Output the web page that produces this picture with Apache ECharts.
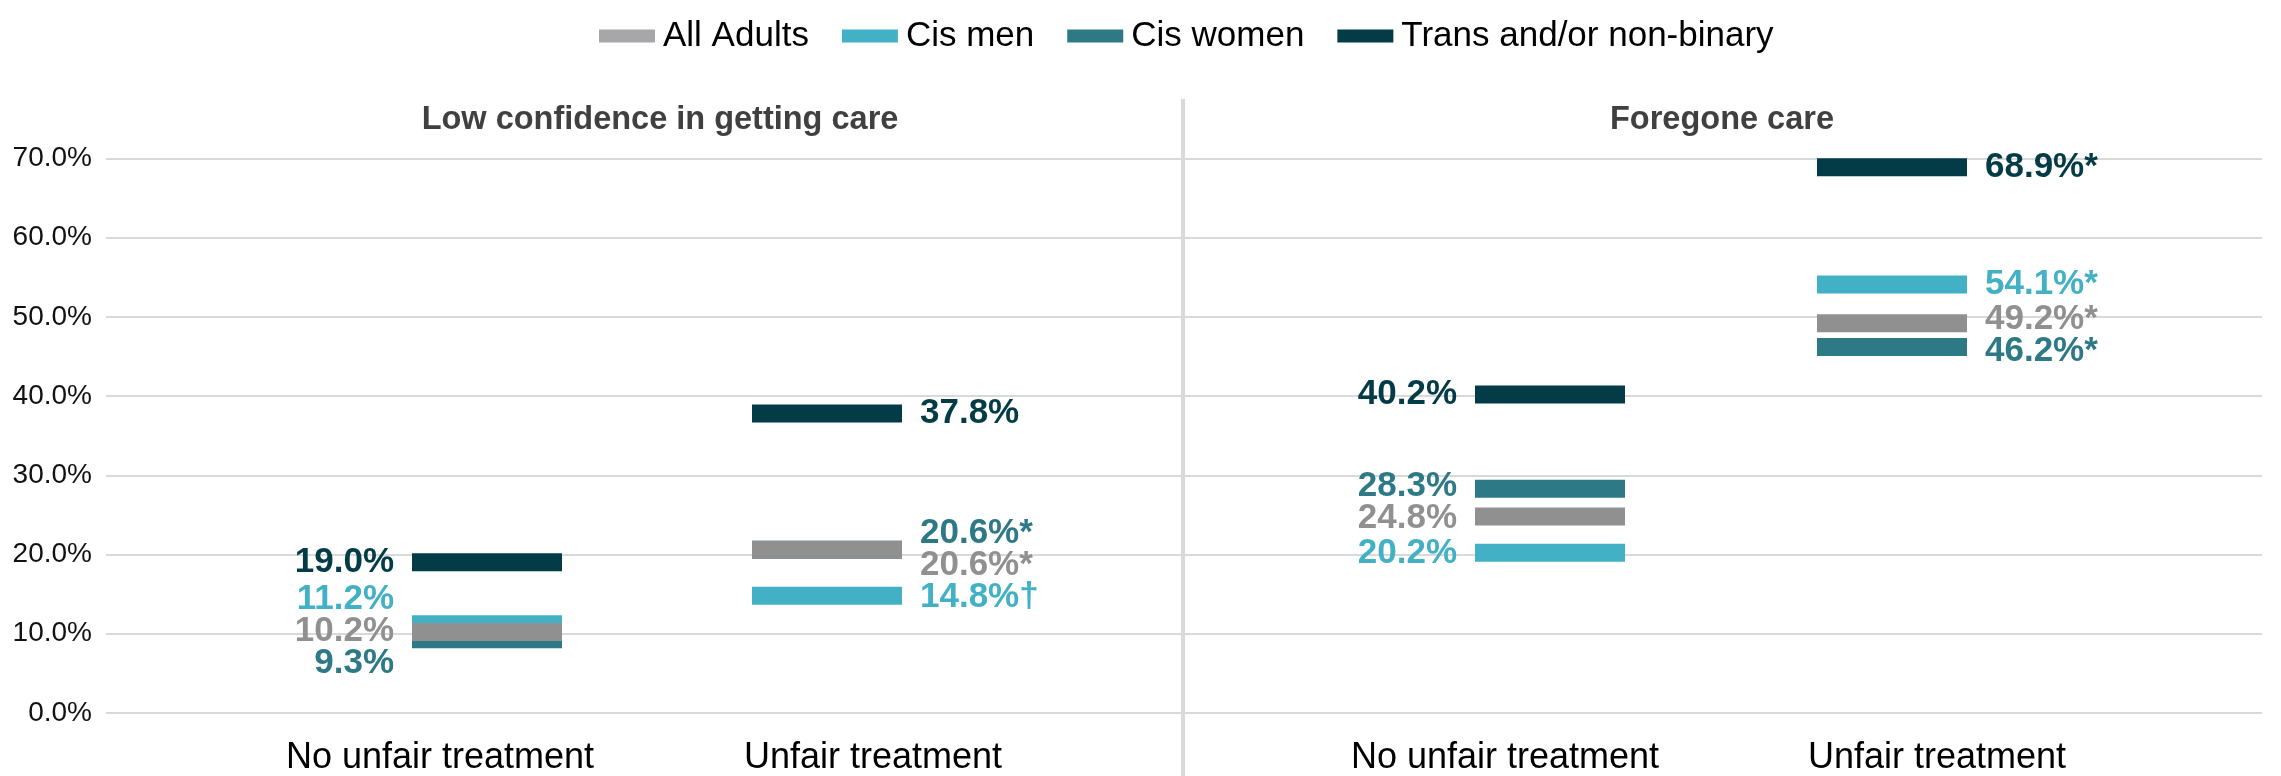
<!DOCTYPE html>
<html>
<head>
<meta charset="utf-8">
<script src="https://cdn.jsdelivr.net/npm/echarts@6/dist/echarts.min.js"></script>
<style>
html,body{margin:0;padding:0;background:#fff;}
#chart{width:2281px;height:776px;}
</style>
</head>
<body>
<div id="chart"></div>
<script>
// ---------- data ----------
const categories = ['No unfair treatment', 'Unfair treatment'];
const panelTitles = ['Low confidence in getting care', 'Foregone care'];
const seriesNames = ['All Adults', 'Cis men', 'Cis women', 'Trans and/or non-binary'];
const yTicks = [0, 10, 20, 30, 40, 50, 60, 70];

const lowConfAllAdults = [10.2, 20.6];
const lowConfCisMen = [11.2, 14.8];
const lowConfCisWomen = [9.3, 20.6];
const lowConfTrans = [19.0, 37.8];
const lowConfMarksAllAdults = ['', '*'];
const lowConfMarksCisMen = ['', '\u2020'];
const lowConfMarksCisWomen = ['', '*'];
const lowConfMarksTrans = ['', ''];

const foregoneAllAdults = [24.8, 49.2];
const foregoneCisMen = [20.2, 54.1];
const foregoneCisWomen = [28.3, 46.2];
const foregoneTrans = [40.2, 68.9];
const foregoneMarksAllAdults = ['', '*'];
const foregoneMarksCisMen = ['', '*'];
const foregoneMarksCisWomen = ['', '*'];
const foregoneMarksTrans = ['', '*'];

// ---------- style ----------
const colors = ['#909090', '#42b1c6', '#2e7986', '#033b46'];
const legendColors = ['#a7a7aa', '#42b1c6', '#2e7986', '#033b46'];
const zOrder = [5, 2, 3, 4];
const FONT = "'Liberation Sans', Arial, sans-serif";
const GRID_TOP = 158.6, GRID_BOTTOM = 63.2;
const LABEL_SEP = 32;

const panels = [
  { values: [lowConfAllAdults, lowConfCisMen, lowConfCisWomen, lowConfTrans],
    marks: [lowConfMarksAllAdults, lowConfMarksCisMen, lowConfMarksCisWomen, lowConfMarksTrans] },
  { values: [foregoneAllAdults, foregoneCisMen, foregoneCisWomen, foregoneTrans],
    marks: [foregoneMarksAllAdults, foregoneMarksCisMen, foregoneMarksCisWomen, foregoneMarksTrans] }
];

const chart = echarts.init(document.getElementById('chart'), null, {renderer: 'canvas'});

function buildSeries(offsets) {
  const series = [];
  panels.forEach((panel, p) => {
    seriesNames.forEach((name, s) => {
      series.push({
        type: 'scatter',
        name: name,
        xAxisIndex: p + 1,
        yAxisIndex: p + 1,
        symbol: 'rect',
        symbolSize: [150, 18],
        z: zOrder[s],
        itemStyle: {color: colors[s], opacity: 1},
        emphasis: {disabled: true},
        silent: true,
        data: panel.values[s].map((v, i) => ({
          value: [i, v],
          label: {
            show: true,
            position: i === 0 ? 'left' : 'right',
            distance: 18,
            formatter: v.toFixed(1) + '%' + panel.marks[s][i],
            color: colors[s],
            fontFamily: FONT,
            fontWeight: 'bold',
            fontSize: 35,
            offset: [0, offsets ? offsets[p][s][i] : 0]
          }
        }))
      });
    });
  });
  return series;
}

const plotGrids = [
  {left: 317, width: 680, top: GRID_TOP, bottom: GRID_BOTTOM},
  {left: 1379, width: 684, top: GRID_TOP, bottom: GRID_BOTTOM}
];
const labelGrids = [
  {left: 223.5, width: 866, top: GRID_TOP, bottom: GRID_BOTTOM},
  {left: 1289, width: 864, top: GRID_TOP, bottom: GRID_BOTTOM}
];

const hiddenY = {type: 'value', min: yTicks[0], max: yTicks[yTicks.length - 1], interval: yTicks[1] - yTicks[0], show: false};
const catLabel = {fontFamily: FONT, fontSize: 36, color: '#000', margin: 38};

const option = {
  animation: false,
  backgroundColor: '#ffffff',
  legend: {
    left: 599,
    top: 18.5,
    padding: 0,
    icon: 'rect',
    itemWidth: 56,
    itemHeight: 13,
    itemGap: 33,
    selectedMode: false,
    textStyle: {fontFamily: FONT, fontSize: 35, color: '#000', padding: [0, 0, 0, 3]},
    data: seriesNames.map((n, s) => ({name: n, itemStyle: {color: legendColors[s]}}))
  },
  grid: [
    {left: 106, right: 19, top: GRID_TOP, bottom: GRID_BOTTOM},
    plotGrids[0], plotGrids[1], labelGrids[0], labelGrids[1]
  ],
  xAxis: [
    {gridIndex: 0, type: 'value', show: false},
    {gridIndex: 1, type: 'category', data: categories, show: false},
    {gridIndex: 2, type: 'category', data: categories, show: false},
    {gridIndex: 3, type: 'category', data: categories, axisLine: {show: false}, axisTick: {show: false}, axisLabel: catLabel},
    {gridIndex: 4, type: 'category', data: categories, axisLine: {show: false}, axisTick: {show: false}, axisLabel: catLabel}
  ],
  yAxis: [
    {gridIndex: 0, type: 'value', min: yTicks[0], max: yTicks[yTicks.length - 1], interval: yTicks[1] - yTicks[0],
     axisLine: {show: false}, axisTick: {show: false},
     axisLabel: {fontFamily: FONT, fontSize: 28, color: '#111', margin: 14, formatter: v => v.toFixed(1) + '%'},
     splitLine: {lineStyle: {color: '#d9d9d9', width: 2}}},
    Object.assign({gridIndex: 1}, hiddenY),
    Object.assign({gridIndex: 2}, hiddenY),
    Object.assign({gridIndex: 3}, hiddenY),
    Object.assign({gridIndex: 4}, hiddenY)
  ],
  graphic: [
    {type: 'line', shape: {x1: 1183, y1: 99, x2: 1183, y2: 776}, style: {stroke: '#d9d9d9', lineWidth: 4}, z: 10},
    {type: 'text', x: 660, y: 120, style: {text: panelTitles[0], font: "bold 32.5px 'Liberation Sans', Arial, sans-serif", fill: '#404040', textAlign: 'center', textVerticalAlign: 'middle'}},
    {type: 'text', x: 1722, y: 120, style: {text: panelTitles[1], font: "bold 32.5px 'Liberation Sans', Arial, sans-serif", fill: '#404040', textAlign: 'center', textVerticalAlign: 'middle'}}
  ],
  series: buildSeries(null)
};
chart.setOption(option);

// spread overlapping value labels apart (per panel & category), using pixel positions from the axes
function spreadLabels() {
  const offsets = panels.map(panel => panel.values.map(arr => arr.map(() => 0)));
  panels.forEach((panel, p) => {
    categories.forEach((c, i) => {
      const items = panel.values.map((arr, s) => ({
        s: s,
        y: chart.convertToPixel({gridIndex: p + 1}, [i, arr[i]])[1]
      }));
      items.sort((a, b) => (a.y - b.y) || (b.s - a.s));
      let clusters = items.map(it => ({members: [it], center: it.y}));
      let changed = true;
      while (changed) {
        changed = false;
        for (let k = 0; k < clusters.length - 1; k++) {
          const a = clusters[k], b = clusters[k + 1];
          const aBottom = a.center + (a.members.length - 1) / 2 * LABEL_SEP;
          const bTop = b.center - (b.members.length - 1) / 2 * LABEL_SEP;
          if (bTop - aBottom < LABEL_SEP) {
            const members = a.members.concat(b.members);
            const center = members.reduce((t, m) => t + m.y, 0) / members.length;
            clusters.splice(k, 2, {members: members, center: center});
            changed = true;
            break;
          }
        }
      }
      clusters.forEach(cl => {
        cl.members.forEach((m, k) => {
          const pos = cl.center + (k - (cl.members.length - 1) / 2) * LABEL_SEP;
          offsets[p][m.s][i] = pos - m.y;
        });
      });
    });
  });
  return offsets;
}
chart.setOption({series: buildSeries(spreadLabels())});
</script>
</body>
</html>
